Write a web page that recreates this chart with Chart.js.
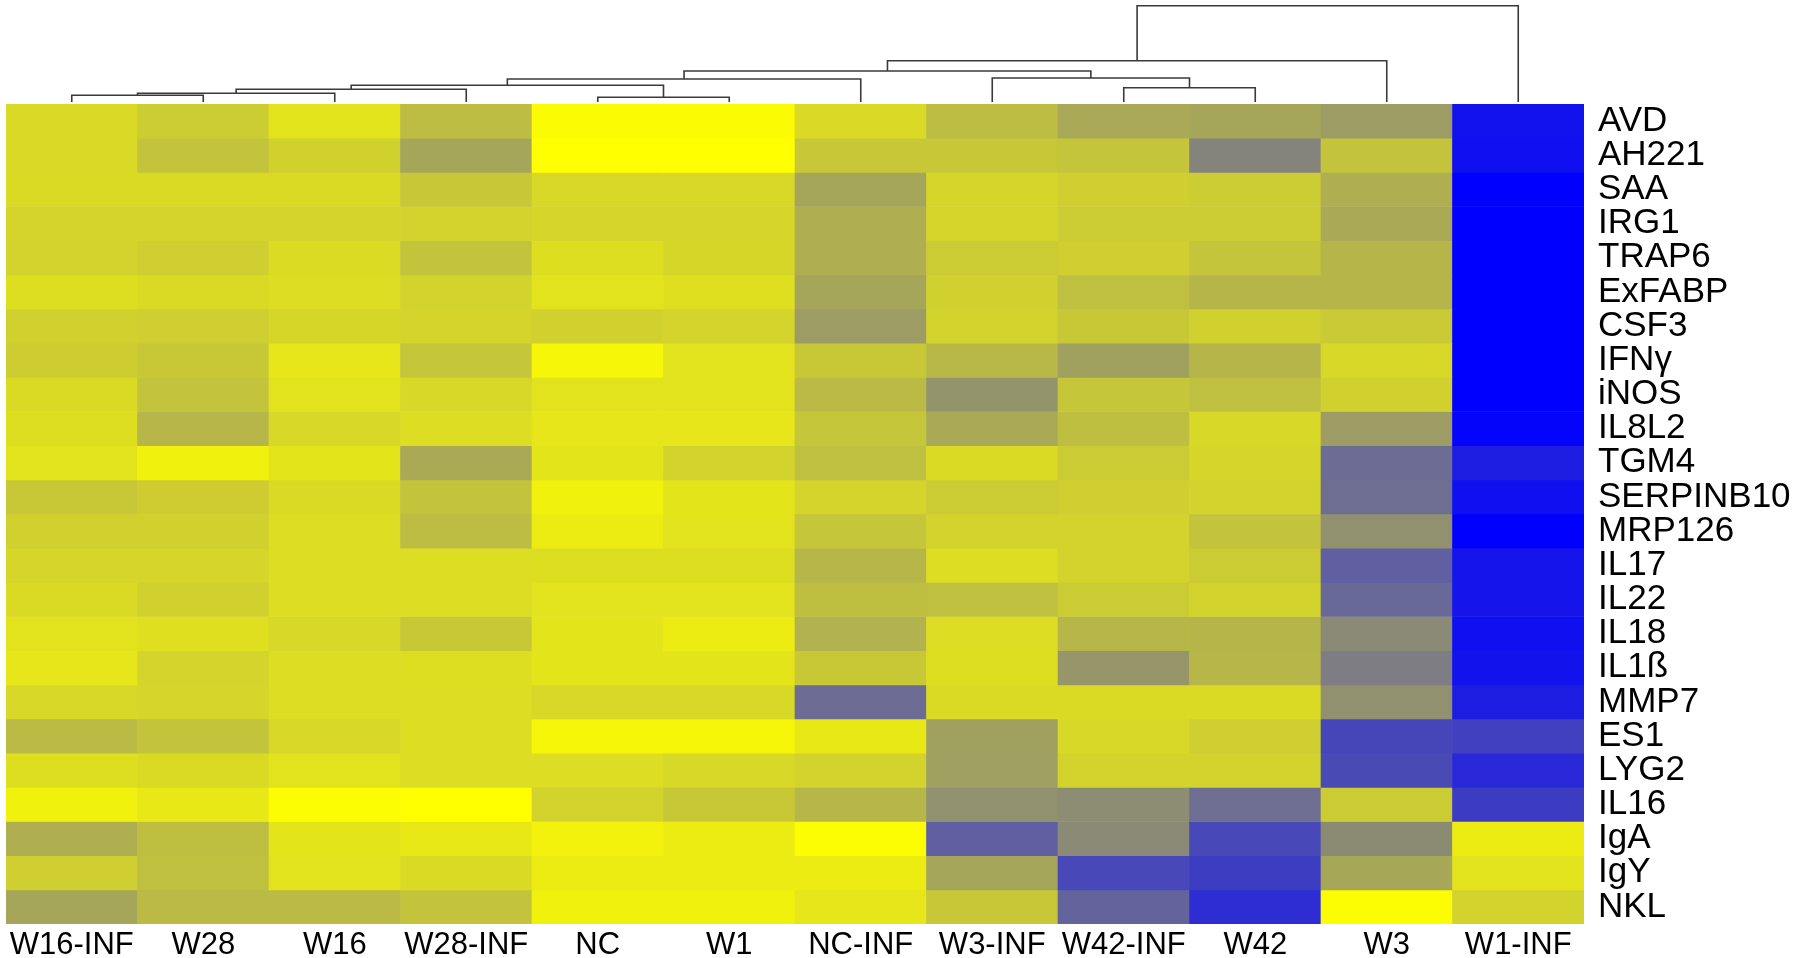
<!DOCTYPE html>
<html>
<head>
<meta charset="utf-8">
<script src="https://cdn.jsdelivr.net/npm/chart.js@4"></script>
<style>
  html, body { margin: 0; padding: 0; background: #fff; }
  #wrap { width: 1800px; height: 958px; }
</style>
</head>
<body>
<div id="wrap"><canvas id="heat"></canvas></div>
<script>
const columns = ["W16-INF", "W28", "W16", "W28-INF", "NC", "W1", "NC-INF", "W3-INF", "W42-INF", "W42", "W3", "W1-INF"];
const genes = ["AVD", "AH221", "SAA", "IRG1", "TRAP6", "ExFABP", "CSF3", "IFN\u03b3", "iNOS", "IL8L2", "TGM4", "SERPINB10",
  "MRP126", "IL17", "IL22", "IL18", "IL1\u00df", "MMP7", "ES1", "LYG2", "IL16", "IgA", "IgY", "NKL"];

// scaled expression, -1 = blue, 0 = gray, 1 = yellow (one row per gene, columns in order above)
const values = [
  [0.70, 0.60, 0.78, 0.48, 0.97, 0.97, 0.70, 0.48, 0.32, 0.30, 0.22, -0.87],
  [0.70, 0.53, 0.64, 0.30, 1.00, 1.00, 0.56, 0.56, 0.54, 0.03, 0.53, -0.88],
  [0.71, 0.71, 0.71, 0.56, 0.69, 0.69, 0.30, 0.67, 0.62, 0.60, 0.37, -1.00],
  [0.66, 0.66, 0.66, 0.65, 0.67, 0.67, 0.37, 0.67, 0.60, 0.60, 0.33, -1.00],
  [0.65, 0.62, 0.72, 0.53, 0.74, 0.68, 0.37, 0.59, 0.62, 0.54, 0.42, -1.00],
  [0.74, 0.71, 0.73, 0.65, 0.77, 0.75, 0.30, 0.63, 0.50, 0.42, 0.42, -1.00],
  [0.63, 0.62, 0.68, 0.66, 0.63, 0.66, 0.22, 0.65, 0.57, 0.63, 0.58, -1.00],
  [0.61, 0.57, 0.80, 0.55, 0.93, 0.77, 0.57, 0.44, 0.26, 0.42, 0.69, -1.00],
  [0.71, 0.53, 0.77, 0.69, 0.77, 0.77, 0.46, 0.16, 0.55, 0.50, 0.63, -1.00],
  [0.74, 0.43, 0.69, 0.73, 0.80, 0.80, 0.55, 0.33, 0.49, 0.69, 0.22, -0.97],
  [0.77, 0.89, 0.79, 0.33, 0.79, 0.65, 0.50, 0.71, 0.59, 0.67, -0.16, -0.77],
  [0.57, 0.61, 0.71, 0.53, 0.89, 0.79, 0.66, 0.59, 0.62, 0.65, -0.14, -0.88],
  [0.63, 0.63, 0.73, 0.48, 0.85, 0.77, 0.55, 0.65, 0.65, 0.53, 0.13, -1.00],
  [0.67, 0.67, 0.73, 0.73, 0.74, 0.74, 0.43, 0.73, 0.65, 0.59, -0.26, -0.84],
  [0.71, 0.63, 0.73, 0.73, 0.77, 0.77, 0.49, 0.50, 0.59, 0.65, -0.18, -0.84],
  [0.77, 0.75, 0.69, 0.57, 0.79, 0.85, 0.39, 0.73, 0.43, 0.42, 0.08, -0.88],
  [0.80, 0.66, 0.73, 0.74, 0.79, 0.79, 0.57, 0.74, 0.17, 0.43, -0.02, -0.86],
  [0.69, 0.67, 0.73, 0.73, 0.69, 0.69, -0.16, 0.71, 0.71, 0.71, 0.13, -0.77],
  [0.46, 0.53, 0.69, 0.73, 0.93, 0.93, 0.82, 0.26, 0.69, 0.62, -0.45, -0.50],
  [0.74, 0.71, 0.77, 0.73, 0.73, 0.69, 0.65, 0.25, 0.65, 0.65, -0.42, -0.69],
  [0.89, 0.82, 0.98, 1.00, 0.65, 0.57, 0.43, 0.13, 0.10, -0.14, 0.59, -0.53],
  [0.37, 0.49, 0.79, 0.82, 0.90, 0.85, 0.98, -0.26, 0.08, -0.44, 0.09, 0.85],
  [0.62, 0.50, 0.77, 0.71, 0.85, 0.85, 0.85, 0.30, -0.44, -0.52, 0.31, 0.77],
  [0.30, 0.46, 0.46, 0.53, 0.89, 0.89, 0.80, 0.56, -0.22, -0.65, 0.98, 0.65]
];

// column clustering, hclust style: negative = leaf (column number), positive = earlier merge
const mergeLeft = [-5, -1, 2, 3, -9, 4, 6, -8, 7, 9, 10];
const mergeRight = [-6, -2, -3, -4, -10, 1, -7, 5, 8, -11, -12];
const mergeHeight = [0.47, 0.67, 0.87, 1.27, 1.43, 1.67, 2.3, 2.4, 3.1, 4.13, 9.63];

function heatColor(v) {
  let r, b;
  if (v >= 0) {
    r = 128 + 127 * v;
    b = 128 - 128 * v;
  } else {
    r = 128 + 128 * v;
    b = 128 - 127 * v;
  }
  return `rgb(${Math.round(r)},${Math.round(r)},${Math.round(b)})`;
}

const heatSets = genes.map((g, r) => ({
  label: g,
  data: columns.map(() => [r, r + 1]),
  backgroundColor: values[r].map(heatColor),
  borderWidth: 0,
  grouped: false,
  barPercentage: 1,
  categoryPercentage: 1,
  xAxisID: "x",
  yAxisID: "y"
}));

// dendrogram branches
const nodeX = [];
function nodePos(ref) {
  if (ref < 0) return { x: -ref - 1, h: 0 };
  return { x: nodeX[ref - 1], h: mergeHeight[ref - 1] };
}
const treeSets = mergeHeight.map((h, i) => {
  const a = nodePos(mergeLeft[i]);
  const b = nodePos(mergeRight[i]);
  nodeX[i] = (a.x + b.x) / 2;
  return {
    type: "line",
    data: [{ x: a.x, y: a.h }, { x: a.x, y: h }, { x: b.x, y: h }, { x: b.x, y: b.h }],
    borderColor: "#3a3a3a",
    borderWidth: 1.6,
    pointRadius: 0,
    fill: false,
    tension: 0,
    xAxisID: "xd",
    yAxisID: "yd"
  };
});

const noPad = (s) => {
  s.paddingTop = 0;
  s.paddingBottom = 0;
  s.paddingLeft = 0;
  s.paddingRight = 0;
};

new Chart(document.getElementById("heat"), {
  type: "bar",
  data: {
    labels: columns,
    datasets: [...heatSets, ...treeSets]
  },
  options: {
    responsive: true,
    maintainAspectRatio: false,
    animation: false,
    layout: { padding: { left: 6, right: 0, top: 0, bottom: 0 } },
    plugins: {
      legend: { display: false },
      tooltip: { enabled: false }
    },
    scales: {
      x: {
        type: "category",
        position: "bottom",
        offset: true,
        grid: { display: false, drawTicks: false },
        border: { display: false },
        ticks: {
          color: "#000",
          autoSkip: false,
          maxRotation: 0,
          padding: 3,
          font: { family: "'Liberation Sans', Arial, sans-serif", size: 31 }
        },
        afterFit: (s) => { s.height = 34; noPad(s); }
      },
      xd: {
        type: "linear",
        position: "bottom",
        offset: false,
        min: -0.5,
        max: 11.5,
        display: false
      },
      yd: {
        type: "linear",
        position: "right",
        stack: "v",
        stackWeight: 104,
        weight: 0,
        min: -0.2,
        max: 10.2,
        display: false
      },
      y: {
        type: "linear",
        position: "right",
        stack: "v",
        stackWeight: 820,
        weight: 1,
        reverse: true,
        min: 0,
        max: 24,
        grid: { display: false, drawTicks: false },
        border: { display: false },
        afterBuildTicks: (s) => { s.ticks = genes.map((g, i) => ({ value: i + 0.5 })); },
        ticks: {
          color: "#000",
          padding: 14,
          autoSkip: false,
          callback: (v, i) => genes[i],
          font: { family: "'Liberation Sans', Arial, sans-serif", size: 35 }
        },
        afterFit: (s) => { s.width = 216; noPad(s); }
      }
    }
  }
});
</script>
</body>
</html>
